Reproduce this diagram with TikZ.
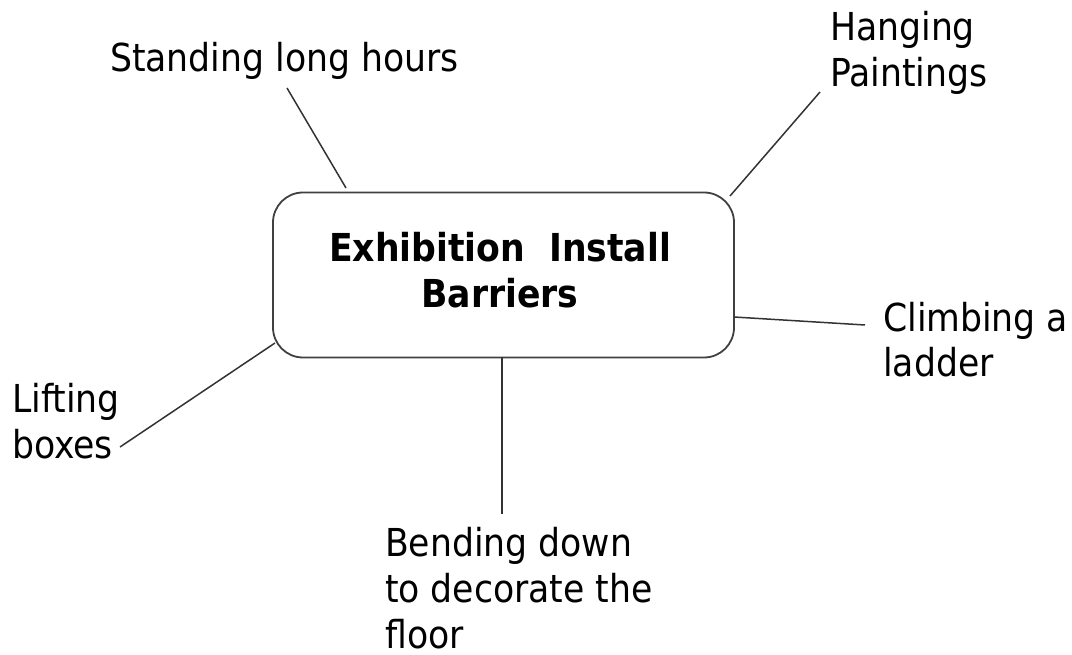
\documentclass[tikz,border=0pt]{standalone}
\usepackage{fontspec}
\setmainfont{DejaVu Sans Condensed}
\begin{document}
\begin{tikzpicture}[x=1pt,y=-1pt,
  lbl/.style={anchor=base west,inner sep=0pt,align=left,font=\fontsize{38.5pt}{46pt}\selectfont},
  hub/.style={draw=black!75,line width=1.8pt,rounded corners=30pt,minimum width=461pt,minimum height=165pt,inner sep=0pt},
  conn/.style={draw=black!80,line width=1.5pt}]
\useasboundingbox (0,0) rectangle (1072,655);
\node[hub] (box) at (503.5,275) {};
\node[anchor=base,inner sep=0pt,align=center,font=\fontsize{38.5pt}{46pt}\selectfont\bfseries] (title) at (500,308) {Exhibition\ \ Install\\Barriers};
\node[lbl] (stand) at (110,72) {Standing long hours};
\node[lbl] (hang) at (830,87) {Hanging\\Paintings};
\node[lbl] (climb) at (883,377) {Climbing a\\ladder};
\node[lbl] (lift) at (12,458) {Lifting\\boxes};
\node[lbl] (bend) at (385,648) {Bending down\\to decorate the\\floor};
\coordinate (s1) at (287,88);  \coordinate (s2) at (346,188);
\coordinate (h1) at (820,92);  \coordinate (h2) at (730,196);
\coordinate (c1) at (734,317); \coordinate (c2) at (865,325);
\coordinate (l1) at (275,343); \coordinate (l2) at (120,447);
\coordinate (b1) at (502,357); \coordinate (b2) at (502,514);
\draw[conn] (s1) -- (s2);
\draw[conn] (h1) -- (h2);
\draw[conn] (c1) -- (c2);
\draw[conn] (l1) -- (l2);
\draw[conn] (b1) -- (b2);
\end{tikzpicture}
\end{document}
